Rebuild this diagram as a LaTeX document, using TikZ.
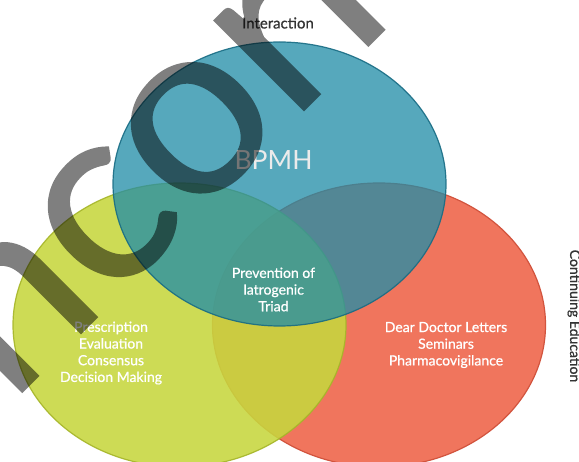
\documentclass[tikz,border=0pt]{standalone}
\usepackage{fontspec}
\setmainfont{Lato}
\newfontfamily\latosemi[FakeBold=0.8]{Lato}
\newfontfamily\latostamp[FakeBold=0.8]{Lato}
\usetikzlibrary{shapes.geometric}
\definecolor{bpmhfill}{RGB}{34,141,167}
\definecolor{bpmhline}{RGB}{24,108,132}
\definecolor{prescfill}{RGB}{199,215,62}
\definecolor{prescline}{RGB}{165,181,40}
\definecolor{dearfill}{RGB}{240,117,93}
\definecolor{dearline}{RGB}{210,84,62}
\tikzset{
  venn/.style={ellipse, minimum width=333pt, minimum height=284pt, inner sep=0pt, line width=1.2pt},
  lbl/.style={align=center, text=white, font=\latosemi\fontsize{14}{16.7}\selectfont}
}
\begin{document}
\begin{tikzpicture}[x=1pt,y=-1pt]
\useasboundingbox (0,0) rectangle (579,462);
\clip (0,0) rectangle (579,462);
\fill[white] (0,0) rectangle (579,462);
% three circles, blue one on top
\node[venn, draw=dearline, fill=dearfill] (dear) at (379,325){};
\node[venn, draw=prescline, fill=prescfill, fill opacity=0.88, draw opacity=0.9] (presc) at (179.5,325){};
\node[venn, draw=bpmhline, fill=bpmhfill, fill opacity=0.76, draw opacity=0.9] (bpmh) at (279.5,184){};
% labels
\node[text=white!92!black, font=\fontsize{26.5}{26.5}\selectfont] (bpmhtxt) at (273.5,160){BPMH};
\node[lbl] (triad) at (273.5,289.5){Prevention of\\Iatrogenic\\Triad};
\node[lbl] (presctxt) at (111,353){Prescription\\Evaluation\\Consensus\\Decision Making};
\node[lbl] (deartxt) at (446,345){Dear Doctor Letters\\Seminars\\Pharmacovigilance};
\node[text=black!80, font=\latosemi\fontsize{15}{16}\selectfont] (inter) at (278,23){Interaction};
\node[text=black!80, font=\latosemi\fontsize{14}{16}\selectfont, rotate=-90] (contedu) at (574,316){Continuing Education};
% stamp across the page
\begin{scope}[transparency group, opacity=0.5]
\node[rotate=45, anchor=base west, inner sep=0pt, text=black,
  font=\latostamp\fontsize{250}{250}\selectfont] (stamp) at (-118,532){Uncorrected};
\end{scope}
\end{tikzpicture}
\end{document}
